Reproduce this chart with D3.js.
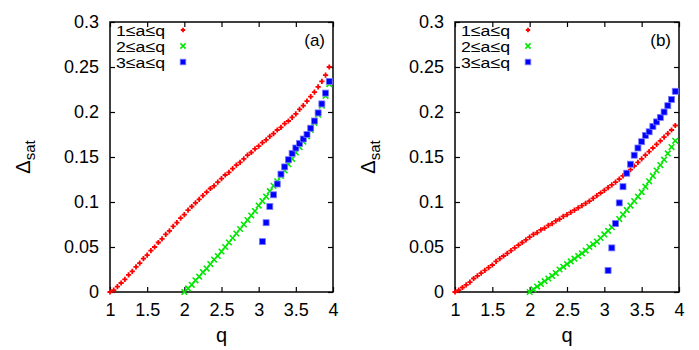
<!DOCTYPE html>
<html><head><meta charset="utf-8">
<script src="https://cdn.jsdelivr.net/npm/d3@7"></script>
<style>body{margin:0;background:#fff}svg{display:block}text{font-family:"Liberation Sans",Arial,sans-serif;fill:#000}</style>
</head><body><svg id="c" width="699" height="350"></svg>
<script>
const xTicks = [1, 1.5, 2, 2.5, 3, 3.5, 4];
const xTickLabels = ["1", "1.5", "2", "2.5", "3", "3.5", "4"];
const yTicks = [0, 0.05, 0.1, 0.15, 0.2, 0.25, 0.3];
const yTickLabels = ["0", "0.05", "0.1", "0.15", "0.2", "0.25", "0.3"];
const seriesNames = ["1\u2264a\u2264q", "2\u2264a\u2264q", "3\u2264a\u2264q"];
const panelLabels = ["(a)", "(b)"];

const qRed = [1.00,1.05,1.10,1.15,1.20,1.25,1.30,1.35,1.40,1.45,1.50,1.55,1.60,1.65,1.70,1.75,1.80,1.85,1.90,1.95,
  2.00,2.05,2.10,2.15,2.20,2.25,2.30,2.35,2.40,2.45,2.50,2.55,2.60,2.65,2.70,2.75,2.80,2.85,2.90,2.95,
  3.00,3.05,3.10,3.15,3.20,3.25,3.30,3.35,3.40,3.45,3.50,3.55,3.60,3.65,3.70,3.75,3.80,3.85,3.90,3.95];
const qGreen = [2.00,2.05,2.10,2.15,2.20,2.25,2.30,2.35,2.40,2.45,2.50,2.55,2.60,2.65,2.70,2.75,2.80,2.85,2.90,2.95,
  3.00,3.05,3.10,3.15,3.20,3.25,3.30,3.35,3.40,3.45,3.50,3.55,3.60,3.65,3.70,3.75,3.80,3.85,3.90,3.95];
const qBlue = [3.05,3.10,3.15,3.20,3.25,3.30,3.35,3.40,3.45,3.50,3.55,3.60,3.65,3.70,3.75,3.80,3.85,3.90,3.95];

// panel (a)
const redA = [0.000,0.002,0.006,0.010,0.014,0.019,0.023,0.028,0.032,0.037,0.041,0.046,0.050,0.055,0.059,0.064,0.068,0.073,0.077,0.082,
  0.086,0.091,0.095,0.099,0.103,0.107,0.111,0.115,0.118,0.122,0.126,0.130,0.133,0.137,0.141,0.144,0.148,0.152,0.155,0.159,
  0.162,0.166,0.169,0.173,0.176,0.180,0.183,0.187,0.190,0.194,0.198,0.203,0.207,0.212,0.217,0.222,0.228,0.234,0.241,0.250];
const greenA = [0.000,0.004,0.008,0.013,0.017,0.022,0.026,0.031,0.036,0.040,0.045,0.050,0.055,0.060,0.065,0.070,0.075,0.080,0.085,0.090,
  0.096,0.101,0.106,0.112,0.118,0.123,0.129,0.135,0.142,0.148,0.155,0.161,0.167,0.173,0.180,0.188,0.197,0.207,0.218,0.231];
const blueA = [0.056,0.077,0.095,0.108,0.120,0.131,0.139,0.147,0.154,0.160,0.165,0.170,0.175,0.182,0.190,0.199,0.209,0.221,0.234];

// panel (b)
const redB = [0.000,0.002,0.005,0.008,0.011,0.015,0.018,0.021,0.024,0.027,0.030,0.034,0.037,0.040,0.043,0.046,0.049,0.052,0.055,0.058,
  0.061,0.064,0.066,0.069,0.071,0.074,0.076,0.079,0.081,0.084,0.086,0.0885,0.091,0.0935,0.096,0.0985,0.101,0.104,0.107,0.110,
  0.113,0.116,0.119,0.122,0.1255,0.129,0.1325,0.136,0.140,0.144,0.148,0.152,0.156,0.160,0.164,0.168,0.172,0.176,0.180,0.185];
const greenB = [0.000,0.003,0.006,0.009,0.012,0.015,0.018,0.021,0.025,0.028,0.031,0.034,0.037,0.040,0.043,0.046,0.050,0.053,0.056,0.060,
  0.064,0.068,0.072,0.076,0.081,0.086,0.091,0.096,0.101,0.106,0.111,0.117,0.123,0.129,0.135,0.141,0.147,0.154,0.161,0.168];
const blueB = [0.024,0.049,0.076,0.099,0.117,0.132,0.142,0.152,0.160,0.167,0.174,0.178,0.184,0.189,0.194,0.200,0.207,0.214,0.223];

const colors = ["#ff0000", "#00e600", "#0000ff"];
const svg = d3.select("#c");

const panels = [
  {x0: 110, x1: 333, red: redA, green: greenA, blue: blueA, label: panelLabels[0]},
  {x0: 455, x1: 679, red: redB, green: greenB, blue: blueB, label: panelLabels[1]}
];
const yTop = 22, yBot = 292;

function marker(g, type, x, y, s) {
  if (type === 0) {
    g.append("path").attr("d", `M${x-s},${y}H${x+s}M${x},${y-s}V${y+s}`)
      .attr("stroke", colors[0]).attr("stroke-width", 1.8).attr("fill", "none");
  } else if (type === 1) {
    g.append("path").attr("d", `M${x-s},${y-s}L${x+s},${y+s}M${x-s},${y+s}L${x+s},${y-s}`)
      .attr("stroke", colors[1]).attr("stroke-width", 1.6).attr("fill", "none");
  } else {
    g.append("rect").attr("x", x-s).attr("y", y-s).attr("width", 2*s).attr("height", 2*s)
      .attr("fill", colors[2]).attr("stroke", "#7a7aff").attr("stroke-width", 0.8);
  }
}

panels.forEach((p, pi) => {
  const x = d3.scaleLinear().domain([1, 4]).range([p.x0, p.x1]);
  const y = d3.scaleLinear().domain([0, 0.3]).range([yBot, yTop]);
  const g = svg.append("g");

  const ax = g.append("g").attr("transform", `translate(0,${yBot})`)
    .call(d3.axisBottom(x).tickValues(xTicks).tickFormat((d,i)=>xTickLabels[i]).tickSizeInner(-5).tickSizeOuter(0).tickPadding(11));
  const axT = g.append("g").attr("transform", `translate(0,${yTop})`)
    .call(d3.axisTop(x).tickValues(xTicks).tickFormat("").tickSizeInner(-5).tickSizeOuter(0));
  const ay = g.append("g").attr("transform", `translate(${p.x0},0)`)
    .call(d3.axisLeft(y).tickValues(yTicks).tickFormat((d,i)=>yTickLabels[i]).tickSizeInner(-5).tickSizeOuter(0).tickPadding(11));
  const ayR = g.append("g").attr("transform", `translate(${p.x1},0)`)
    .call(d3.axisRight(y).tickValues(yTicks).tickFormat("").tickSizeInner(-5).tickSizeOuter(0));
  [ax, axT, ay, ayR].forEach(a => {
    a.select(".domain").remove();
    a.selectAll("line").attr("stroke", "#000").attr("stroke-width", 1.2);
    a.selectAll("text").attr("font-size", 18).attr("font-family", "Liberation Sans, Arial, sans-serif").attr("fill", "#000");
  });
  g.append("rect").attr("x", p.x0).attr("y", yTop).attr("width", p.x1 - p.x0).attr("height", yBot - yTop)
    .attr("fill", "none").attr("stroke", "#000").attr("stroke-width", 1.5);

  // axis titles
  g.append("text").attr("x", (p.x0 + p.x1) / 2).attr("y", 342).attr("text-anchor", "middle")
    .attr("font-size", 20).text("q");
  const yl = g.append("text").attr("transform", `translate(${p.x0 - 80},${(yTop + yBot) / 2}) rotate(-90)`)
    .attr("text-anchor", "middle").attr("font-size", 20);
  yl.append("tspan").text("\u0394");
  yl.append("tspan").attr("font-size", 15).attr("dy", 5).text("sat");

  // panel label
  g.append("text").attr("x", p.x1 - 8).attr("y", 46).attr("text-anchor", "end").attr("font-size", 17).text(p.label);

  // legend
  const lx = p.x0 + 55, mx = p.x0 + 73;
  [0, 1, 2].forEach(i => {
    const ly = 30 + 16 * i;
    g.append("text").attr("x", lx - 49).attr("y", ly + 5.5).attr("font-size", 15.5)
      .attr("textLength", 49).attr("lengthAdjust", "spacingAndGlyphs").text(seriesNames[i]);
    marker(g, i, mx, ly, i === 0 ? 2.2 : (i === 1 ? 2.6 : 2.8));
  });

  // data
  const dg = g.append("g");
  qRed.forEach((q, i) => marker(dg, 0, x(q), y(p.red[i]), 2.6));
  qGreen.forEach((q, i) => marker(dg, 1, x(q), y(p.green[i]), 2.8));
  qBlue.forEach((q, i) => marker(dg, 2, x(q), y(p.blue[i]), 3));
});
</script></body></html>
